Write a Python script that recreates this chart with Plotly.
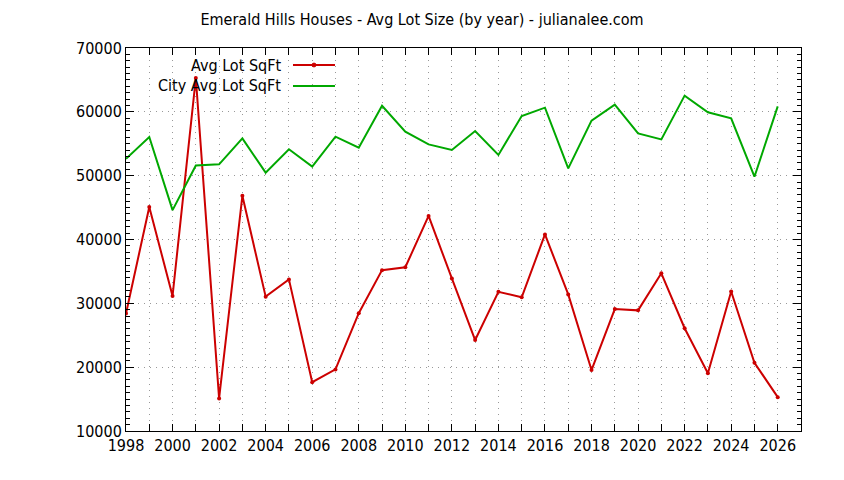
import plotly.graph_objects as go

years = list(range(1998, 2027))

avg_lot_sqft = [
    28400, 45100, 31150, 65300, 15100, 46850, 31050, 33750, 17650, 19650,
    28450, 35200, 35650, 43700, 33900, 24250, 31800, 30950, 40800, 31400,
    19550, 29100, 28900, 34700, 26100, 19050, 31850, 20700, 15300,
]

city_avg_lot_sqft = [
    52650, 56050, 44600, 51600, 51780, 55850, 50470, 54130, 51410, 56110,
    54390, 60950, 56900, 54900, 54020, 57000, 53250, 59350, 60650, 51150,
    58620, 61130, 56620, 55680, 62540, 59940, 58990, 49840, 60860,
]

RED = "#cc0000"
GREEN = "#00a800"
GRID = "#999999"
FONT = "DejaVu Sans Condensed, Liberation Sans Narrow, DejaVu Sans, sans-serif"

fig = go.Figure()

fig.add_trace(go.Scatter(
    x=years, y=avg_lot_sqft, name="Avg Lot SqFt",
    mode="lines+markers",
    line=dict(color=RED, width=2),
    marker=dict(color=RED, size=4, symbol="circle"),
    showlegend=False,
))
fig.add_trace(go.Scatter(
    x=years, y=city_avg_lot_sqft, name="City Avg Lot SqFt",
    mode="lines",
    line=dict(color=GREEN, width=2),
    showlegend=False,
))

# gnuplot style key: text right-aligned, sample to the right
key_rows = [("Avg Lot SqFt", RED, True), ("City Avg Lot SqFt", GREEN, False)]
key_y = [0.9556, 0.9008]
for (label, color, with_marker), ky in zip(key_rows, key_y):
    fig.add_annotation(
        text=label, xref="paper", yref="paper", x=0.2326, y=ky,
        xanchor="right", yanchor="middle", showarrow=False,
        font=dict(family=FONT, size=16, color="black"),
    )
    fig.add_shape(type="line", xref="paper", yref="paper",
                  x0=0.2474, x1=0.3096, y0=ky, y1=ky,
                  line=dict(color=color, width=2))
    if with_marker:
        fig.add_shape(type="circle", xref="paper", yref="paper",
                      x0=0.2785 - 0.003, x1=0.2785 + 0.003,
                      y0=ky - 0.005, y1=ky + 0.005,
                      fillcolor=color, line=dict(color=color, width=1))

fig.update_xaxes(
    range=[1998, 2027], dtick=2, tick0=1998,
    ticks="inside", ticklen=7, tickcolor="black",
    showline=True, linecolor="black", linewidth=1, mirror="allticks",
    showgrid=True, gridcolor=GRID, griddash="1px,5px", gridwidth=1,
    minor=dict(dtick=1, ticks="inside", ticklen=7, tickcolor="black",
               showgrid=True, gridcolor=GRID, griddash="1px,5px"),
    zeroline=False,
    tickfont=dict(family=FONT, size=16, color="black"),
)
fig.update_yaxes(
    range=[10000, 70000], dtick=10000, tickformat="d",
    ticks="inside", ticklen=8, tickcolor="black",
    showline=True, linecolor="black", linewidth=1, mirror="allticks",
    showgrid=True, gridcolor=GRID, griddash="1px,5px", gridwidth=1,
    minor=dict(dtick=1000, ticks="inside", ticklen=4, tickcolor="black",
               showgrid=False),
    zeroline=False,
    tickfont=dict(family=FONT, size=16, color="black"),
)

fig.update_layout(
    width=844, height=480,
    margin=dict(l=126, r=43, t=48, b=49),
    paper_bgcolor="white", plot_bgcolor="white",
    title=dict(
        text="Emerald Hills Houses - Avg Lot Size (by year) - julianalee.com",
        x=0.5, xanchor="center", y=0.96, yanchor="middle",
        font=dict(family=FONT, size=16, color="black"),
    ),
)

fig.write_html("out.html", config={"displayModeBar": False},
               post_script="document.body.style.margin='0';")
